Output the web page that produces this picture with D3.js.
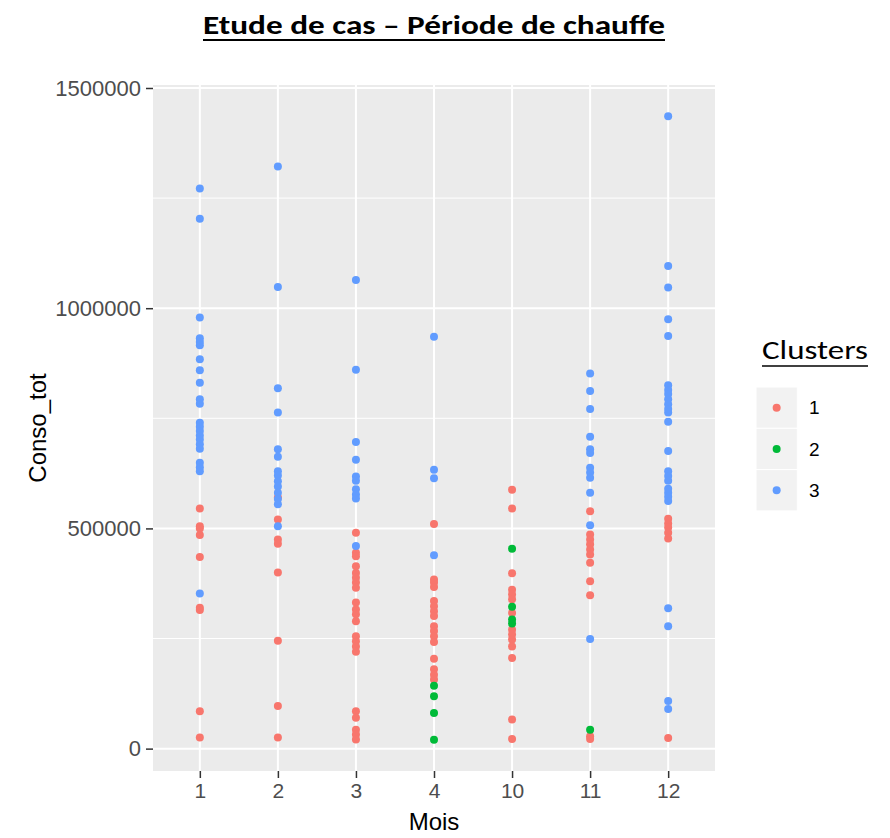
<!DOCTYPE html>
<html>
<head>
<meta charset="utf-8">
<script src="https://cdn.jsdelivr.net/npm/d3@7"></script>
<style>
	body { margin: 0; background: #fff; }
</style>
</head>
<body>
<div id="chart"></div>
<script>
// data //
var months = ['1', '2', '3', '4', '10', '11', '12']
var clusters = ['1', '2', '3']
var clusterColors = ['#F8766D', '#00BA38', '#619CFF']
var yTicks = [0, 500000, 1000000, 1500000]
var yMinorTicks = [250000, 750000, 1250000]

// Conso_tot per month, cluster 1
var cluster1 = {
	'1': [545000, 505000, 500000, 485000, 435000, 320000, 315000, 85000, 25000],
	'2': [570000, 520000, 475000, 465000, 400000, 245000, 97000, 25000],
	'3': [490000, 445000, 437000, 414000, 399000, 388000, 377000, 365000, 332000, 316000, 305000, 289000, 255000, 244000, 232000, 220000, 85000, 70000, 43000, 32000, 21000],
	'4': [510000, 384000, 377000, 367000, 335000, 323000, 312000, 301000, 278000, 267000, 255000, 242000, 204000, 180000, 168000, 157000],
	'10': [588000, 545000, 398000, 361000, 350000, 339000, 308000, 270000, 259000, 248000, 232000, 206000, 66000, 22000],
	'11': [539000, 486000, 475000, 464000, 452000, 441000, 422000, 380000, 348000, 28000, 22000],
	'12': [522000, 511000, 502000, 490000, 477000, 24000]
}

// cluster 2
var cluster2 = {
	'4': [143000, 119000, 81000, 20000],
	'10': [454000, 322000, 293000, 284000],
	'11': [43000]
}

// cluster 3
var cluster3 = {
	'1': [1272000, 1203000, 979000, 932000, 923000, 916000, 884000, 859000, 831000, 793000, 783000, 740000, 731000, 721000, 711000, 702000, 691000, 681000, 649000, 639000, 630000, 352000],
	'2': [1322000, 1048000, 818000, 763000, 680000, 663000, 630000, 620000, 607000, 595000, 581000, 567000, 555000, 505000],
	'3': [1064000, 860000, 696000, 656000, 618000, 608000, 589000, 577000, 568000, 460000],
	'4': [935000, 633000, 614000, 439000],
	'11': [852000, 812000, 771000, 708000, 680000, 671000, 638000, 627000, 615000, 581000, 507000, 249000],
	'12': [1436000, 1096000, 1047000, 975000, 937000, 825000, 814000, 805000, 793000, 782000, 771000, 763000, 742000, 676000, 630000, 619000, 608000, 590000, 581000, 572000, 562000, 319000, 278000, 108000, 90000]
}

// flatten into points, drawn in cluster order 1, 3, 2
var points = []
var addCluster = function(table, cluster) {
	months.forEach(function(m) {
		(table[m] || []).forEach(function(v) {
			points.push({ mois: m, value: v, cluster: cluster })
		})
	})
}
addCluster(cluster1, '1')
addCluster(cluster3, '3')
addCluster(cluster2, '2')

// layout //
var width = 890,
		height = 838,
		panelLeft = 153,
		panelRight = 715,
		panelTop = 85,
		panelBottom = 771,
		tickFont = 'Liberation Sans, Arial, sans-serif',
		titleFont = 'Carlito, Calibri, Liberation Sans Narrow, Liberation Sans, sans-serif'

var svg = d3.select('#chart')
	.append('svg')
		.attr('width', width)
		.attr('height', height)

// scales
var x = d3.scalePoint()
	.domain(months)
	.range([panelLeft, panelRight])
	.padding(0.6)

var yExtent = d3.extent(points, function(d) { return d.value }),
		ySpan = yExtent[1] - yExtent[0]

var y = d3.scaleLinear()
	.domain([yExtent[0] - ySpan * 0.05, yExtent[1] + ySpan * 0.05])
	.range([panelBottom, panelTop])

var color = d3.scaleOrdinal()
	.domain(clusters)
	.range(clusterColors)

// panel //
svg.append('rect')
	.attr('x', panelLeft)
	.attr('y', panelTop)
	.attr('width', panelRight - panelLeft)
	.attr('height', panelBottom - panelTop)
	.attr('fill', '#EBEBEB')

// minor grid
svg.append('g')
	.selectAll('line')
	.data(yMinorTicks)
	.enter()
	.append('line')
		.attr('x1', panelLeft)
		.attr('x2', panelRight)
		.attr('y1', function(d) { return y(d) })
		.attr('y2', function(d) { return y(d) })
		.attr('stroke', '#fff')
		.attr('stroke-width', 1)

// major grid
svg.append('g')
	.selectAll('line')
	.data(yTicks)
	.enter()
	.append('line')
		.attr('x1', panelLeft)
		.attr('x2', panelRight)
		.attr('y1', function(d) { return y(d) })
		.attr('y2', function(d) { return y(d) })
		.attr('stroke', '#fff')
		.attr('stroke-width', 2)

svg.append('g')
	.selectAll('line')
	.data(months)
	.enter()
	.append('line')
		.attr('x1', function(d) { return x(d) })
		.attr('x2', function(d) { return x(d) })
		.attr('y1', panelTop)
		.attr('y2', panelBottom)
		.attr('stroke', '#fff')
		.attr('stroke-width', 2)

// points
svg.append('g')
	.selectAll('circle')
	.data(points)
	.enter()
	.append('circle')
		.attr('cx', function(d) { return x(d.mois) })
		.attr('cy', function(d) { return y(d.value) })
		.attr('r', 4)
		.attr('fill', function(d) { return color(d.cluster) })

// axes //
var yAxis = svg.append('g')
	.attr('transform', 'translate(' + panelLeft + ',0)')
	.call(d3.axisLeft(y).tickValues(yTicks).tickSize(7).tickPadding(5).tickFormat(d3.format('d')))

var xAxis = svg.append('g')
	.attr('transform', 'translate(0,' + panelBottom + ')')
	.call(d3.axisBottom(x).tickSize(7).tickPadding(5))

svg.selectAll('.domain').remove()
svg.selectAll('.tick line').attr('stroke', '#333333').attr('stroke-width', 1.5)
svg.selectAll('.tick text')
	.attr('fill', '#4D4D4D')
	.style('font-family', tickFont)
	.style('font-size', '21px')
yAxis.selectAll('.tick text')
	.style('font-size', '22px')

// axis titles
svg.append('text')
	.attr('x', (panelLeft + panelRight) / 2)
	.attr('y', 830)
	.attr('text-anchor', 'middle')
	.style('font-family', tickFont)
	.style('font-size', '24px')
	.text('Mois')

svg.append('text')
	.attr('transform', 'translate(46,' + ((panelTop + panelBottom) / 2) + ') rotate(-90)')
	.attr('text-anchor', 'middle')
	.style('font-family', tickFont)
	.style('font-size', '24px')
	.text('Conso_tot')

// title //
svg.append('text')
	.attr('x', 203)
	.attr('y', 34)
	.attr('textLength', 462)
	.attr('lengthAdjust', 'spacingAndGlyphs')
	.style('font-family', titleFont)
	.style('font-size', '27px')
	.style('font-weight', 'bold')
	.text('Etude de cas – Période de chauffe')

svg.append('line')
	.attr('x1', 203)
	.attr('x2', 665)
	.attr('y1', 40)
	.attr('y2', 40)
	.attr('stroke', '#000')
	.attr('stroke-width', 2)

// legend //
var legendX = 756,
		legendTop = 387,
		keySize = 41.3

svg.append('text')
	.attr('x', 762)
	.attr('y', 359)
	.attr('textLength', 106)
	.attr('lengthAdjust', 'spacingAndGlyphs')
	.style('font-family', titleFont)
	.style('font-size', '27px')
	.text('Clusters')

svg.append('line')
	.attr('x1', 762)
	.attr('x2', 868)
	.attr('y1', 366)
	.attr('y2', 366)
	.attr('stroke', '#000')
	.attr('stroke-width', 1.5)

var legend = svg.append('g')
	.selectAll('g')
	.data(clusters)
	.enter()
	.append('g')
		.attr('transform', function(d, i) {
			return 'translate(' + legendX + ',' + (legendTop + i * keySize) + ')'
		})

legend.append('rect')
	.attr('width', keySize)
	.attr('height', keySize)
	.attr('fill', '#F2F2F2')
	.attr('stroke', '#fff')
	.attr('stroke-width', 1)

legend.append('circle')
	.attr('cx', keySize / 2)
	.attr('cy', keySize / 2)
	.attr('r', 4)
	.attr('fill', function(d) { return color(d) })

legend.append('text')
	.attr('x', 53)
	.attr('y', keySize / 2)
	.attr('dy', '0.35em')
	.style('font-family', tickFont)
	.style('font-size', '19px')
	.text(function(d) { return d })
</script>
</body>
</html>
